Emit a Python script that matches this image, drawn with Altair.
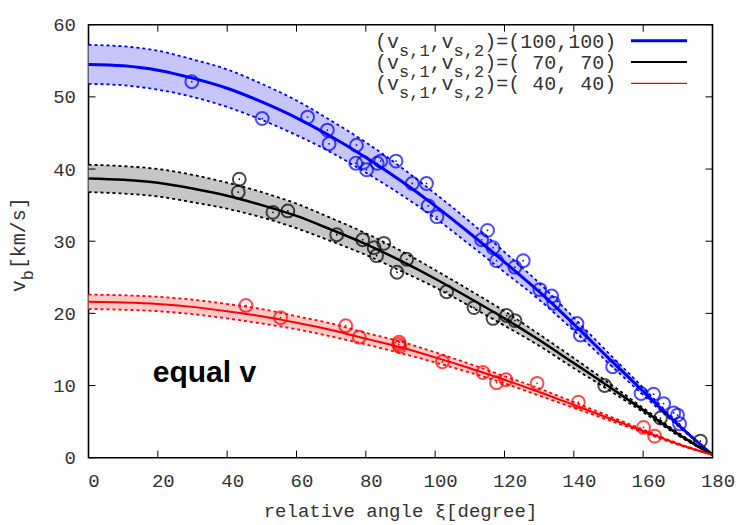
import altair as alt
import pandas as pd

# ---------------- data ----------------
xi_grid = [0, 10, 20, 30, 40, 50, 60, 70, 80, 90, 100, 110, 120, 130, 140, 150, 160, 170, 180]

blue_mid = [54.5, 54.3, 53.7, 52.6, 51.2, 49.3, 47.1, 44.5, 41.6, 38.4, 34.9, 31.1, 27.1, 23.0, 18.5, 13.8, 9.2, 4.6, 0.4]
blue_hi = [57.2, 57.0, 56.4, 55.2, 53.8, 51.8, 49.5, 46.7, 43.7, 40.3, 36.6, 32.7, 28.5, 24.2, 19.4, 14.5, 9.7, 4.8, 0.4]
blue_lo = [51.8, 51.6, 51.0, 50.0, 48.6, 46.8, 44.7, 42.3, 39.5, 36.5, 33.2, 29.5, 25.7, 21.9, 17.6, 13.1, 8.7, 4.4, 0.4]

black_mid = [38.7, 38.5, 38.1, 37.3, 36.3, 35.0, 33.5, 31.6, 29.6, 27.3, 24.8, 22.1, 19.3, 16.3, 13.1, 9.9, 6.6, 3.3, 0.4]
black_hi = [40.6, 40.4, 40.0, 39.2, 38.1, 36.8, 35.2, 33.2, 31.1, 28.7, 26.0, 23.2, 20.3, 17.1, 13.8, 10.4, 6.9, 3.5, 0.4]
black_lo = [36.8, 36.6, 36.2, 35.4, 34.5, 33.3, 31.8, 30.0, 28.1, 25.9, 23.6, 21.0, 18.3, 15.5, 12.4, 9.4, 6.3, 3.1, 0.4]

red_mid = [21.6, 21.5, 21.3, 20.9, 20.3, 19.6, 18.7, 17.7, 16.5, 15.3, 13.9, 12.4, 10.8, 9.1, 7.3, 5.5, 3.7, 1.9, 0.4]
red_hi = [22.6, 22.5, 22.3, 21.9, 21.3, 20.6, 19.6, 18.6, 17.3, 16.1, 14.6, 13.0, 11.3, 9.6, 7.7, 5.8, 3.9, 2.0, 0.4]
red_lo = [20.6, 20.5, 20.3, 19.9, 19.3, 18.6, 17.8, 16.8, 15.7, 14.5, 13.2, 11.8, 10.3, 8.6, 6.9, 5.2, 3.5, 1.8, 0.4]

blue_pt_xi = [29.8, 50.1, 63.2, 68.9, 69.4, 77.3, 77.1, 80.2, 79.3, 83.3, 84.3, 88.7, 93.4, 97.5, 98.0, 100.5,
              113.4, 115.1, 116.7, 117.7, 123.0, 125.4, 130.2, 133.6, 134.2, 140.9, 141.9, 151.2, 159.4, 163.0,
              165.9, 168.8, 169.9, 170.5]
blue_pt_v = [52.1, 47.0, 47.2, 45.4, 43.5, 43.3, 40.8, 39.9, 40.9, 40.8, 41.1, 41.1, 38.0, 38.0, 34.9, 33.4,
             30.2, 31.5, 29.1, 27.3, 26.4, 27.3, 23.3, 22.4, 21.4, 18.6, 17.0, 12.6, 8.9, 8.8,
             7.5, 6.2, 5.9, 4.7]

black_pt_xi = [43.5, 43.2, 53.2, 57.5, 71.6, 79.1, 82.4, 83.1, 85.2, 89.0, 91.8, 103.3, 111.2, 116.7, 120.6,
               123.0, 148.9, 165.0, 176.5]
black_pt_v = [38.6, 36.8, 34.0, 34.2, 30.9, 30.2, 29.1, 28.0, 29.7, 25.7, 27.5, 23.0, 20.8, 19.3, 19.7,
              19.0, 10.0, 5.5, 2.3]

red_pt_xi = [45.4, 55.4, 74.2, 78.1, 89.6, 89.8, 89.5, 102.1, 113.8, 117.7, 120.4, 129.4, 141.3, 160.1, 163.3]
red_pt_v = [21.1, 19.4, 18.3, 16.7, 16.0, 15.4, 15.7, 13.3, 11.8, 10.4, 10.8, 10.3, 7.7, 4.2, 3.0]

series = ["100", "70", "40"]
legend_values = ["(100,100)", "( 70, 70)", "( 40, 40)"]
x_ticks = [0, 20, 40, 60, 80, 100, 120, 140, 160, 180]
y_ticks = [0, 10, 20, 30, 40, 50, 60]

line_colors = ["#0000ff", "#000000", "#ff0000"]
band_colors = ["#c6c6fb", "#c6c6c6", "#fcc9c9"]
line_widths = [3, 2, 1.2]

# ---------------- tables ----------------
curves = []
for s, mid, lo, hi in [("100", blue_mid, blue_lo, blue_hi),
                       ("70", black_mid, black_lo, black_hi),
                       ("40", red_mid, red_lo, red_hi)]:
    for i, x in enumerate(xi_grid):
        curves.append({"series": s, "xi": x, "mid": mid[i], "lo": lo[i], "hi": hi[i]})
curves = pd.DataFrame(curves)

pts = []
for s, xs_, vs in [("100", blue_pt_xi, blue_pt_v), ("70", black_pt_xi, black_pt_v), ("40", red_pt_xi, red_pt_v)]:
    for x, v in zip(xs_, vs):
        pts.append({"series": s, "xi": x, "v": v})
pts = pd.DataFrame(pts)

W, H = 624, 433
FONT = "Liberation Mono"
TXT = "#333"

xs = alt.Scale(domain=[0, 180], nice=False, zero=False)
ys = alt.Scale(domain=[0, 60], nice=False)
col = alt.Scale(domain=series, range=line_colors)
fillcol = alt.Scale(domain=series, range=band_colors)
widths = alt.Scale(domain=series, range=line_widths)

x_axis = alt.Axis(values=x_ticks, title=None, labelFont=FONT, labelFontSize=19, labelColor=TXT,
                  labelPadding=14, labelOffset=5, labelFlush=False, ticks=False, domain=False, grid=False)
y_axis = alt.Axis(values=y_ticks, title=None, labelFont=FONT, labelFontSize=19, labelColor=TXT,
                  labelPadding=13, labelFlush=False, ticks=False, domain=False, grid=False)


def X():
    return alt.X("xi:Q", scale=xs, axis=x_axis)


def Y(field):
    return alt.Y(f"{field}:Q", scale=ys, axis=y_axis)


bands = alt.Chart(curves).mark_area(interpolate="monotone", opacity=1).encode(
    x=X(), y=Y("lo"), y2="hi:Q",
    fill=alt.Fill("series:N", scale=fillcol, legend=None),
)

dots_lo = alt.Chart(curves).mark_line(interpolate="monotone", strokeDash=[3, 3], strokeWidth=1.8).encode(
    x=X(), y=Y("lo"), color=alt.Color("series:N", scale=col, legend=None))
dots_hi = alt.Chart(curves).mark_line(interpolate="monotone", strokeDash=[3, 3], strokeWidth=1.8).encode(
    x=X(), y=Y("hi"), color=alt.Color("series:N", scale=col, legend=None))

mids = alt.Chart(curves).mark_line(interpolate="monotone").encode(
    x=X(), y=Y("mid"),
    color=alt.Color("series:N", scale=col, legend=None),
    strokeWidth=alt.StrokeWidth("series:N", scale=widths, legend=None))

circles = alt.Chart(pts).mark_point(shape="circle", filled=False, size=165, strokeWidth=2).encode(
    x=X(), y=Y("v"), color=alt.Color("series:N", scale=col, legend=None))
centers = alt.Chart(pts).mark_point(shape="circle", filled=True, size=3, opacity=1).encode(
    x=X(), y=Y("v"), color=alt.Color("series:N", scale=col, legend=None))

# inward ticks on all four sides
xt = pd.DataFrame({"xi": x_ticks})
yt = pd.DataFrame({"v": y_ticks})
tick_b = alt.Chart(xt).mark_rule(color="black", strokeWidth=1).encode(x=X(), y=alt.value(H), y2=alt.value(H - 7))
tick_t = alt.Chart(xt).mark_rule(color="black", strokeWidth=1).encode(x=X(), y=alt.value(0), y2=alt.value(7))
tick_l = alt.Chart(yt).mark_rule(color="black", strokeWidth=1).encode(y=Y("v"), x=alt.value(0), x2=alt.value(7))
tick_r = alt.Chart(yt).mark_rule(color="black", strokeWidth=1).encode(y=Y("v"), x=alt.value(W), x2=alt.value(W - 7))

# legend (drawn manually to get subscripts)
NB = "\u00a0"
legend_layers = []
x0 = 286.5
row_y = [17, 38.3, 59.6]
for i, s in enumerate(series):
    y = row_y[i]
    pieces = [("(v", 0, 20), ("s,1", 24, 17), (",v", 54.6, 20), ("s,2", 78.6, 17),
              (")=" + legend_values[i].replace(" ", NB), 109.2, 20)]
    for txt, dx, fs in pieces:
        sub = fs < 20
        legend_layers.append(
            alt.Chart(pd.DataFrame({"t": [txt]})).mark_text(
                font=FONT, fontSize=fs, align="left", baseline="middle", color=TXT
            ).encode(text="t:N", x=alt.value(x0 + dx), y=alt.value(y + (9 if sub else 0)))
        )
    legend_layers.append(
        alt.Chart(pd.DataFrame({"series": [s]})).mark_rule(strokeWidth=line_widths[i]).encode(
            x=alt.value(542.5), x2=alt.value(598.5), y=alt.value(y - 1),
            color=alt.Color("series:N", scale=col, legend=None))
    )

# axis titles and annotation
x_title = alt.Chart(pd.DataFrame({"t": ["relative angle ξ[degree]"]})).mark_text(
    font=FONT, fontSize=19, align="center", baseline="middle", color=TXT
).encode(text="t:N", x=alt.value(W / 2), y=alt.value(486))

yt_main = alt.Chart(pd.DataFrame({"t": ["v"]})).mark_text(
    font=FONT, fontSize=20, angle=270, align="left", baseline="middle", color=TXT
).encode(text="t:N", x=alt.value(-69.5), y=alt.value(267.5))
yt_sub = alt.Chart(pd.DataFrame({"t": ["b"]})).mark_text(
    font=FONT, fontSize=17, angle=270, align="left", baseline="middle", color=TXT
).encode(text="t:N", x=alt.value(-60.5), y=alt.value(255.5))
yt_unit = alt.Chart(pd.DataFrame({"t": ["[km/s]"]})).mark_text(
    font=FONT, fontSize=20, angle=270, align="left", baseline="middle", color=TXT
).encode(text="t:N", x=alt.value(-69.5), y=alt.value(244.5))

note = alt.Chart(pd.DataFrame({"t": ["equal v"]})).mark_text(
    font="Liberation Sans", fontSize=30, fontWeight="bold", align="left", baseline="alphabetic", color="black"
).encode(text="t:N", x=alt.value(64.2), y=alt.value(357))

chart = alt.layer(
    bands, dots_lo, dots_hi, mids, circles, centers,
    tick_b, tick_t, tick_l, tick_r,
    *legend_layers, x_title, yt_main, yt_sub, yt_unit, note
).properties(
    width=W, height=H,
    autosize=alt.AutoSizeParams(type="none"),
    padding={"left": 88.5, "top": 24.7, "right": 37.5, "bottom": 67.3},
    background="white",
).configure_view(
    stroke="black", strokeWidth=1.6
)

chart.save("out.html", embed_options={"renderer": "svg", "actions": False})
